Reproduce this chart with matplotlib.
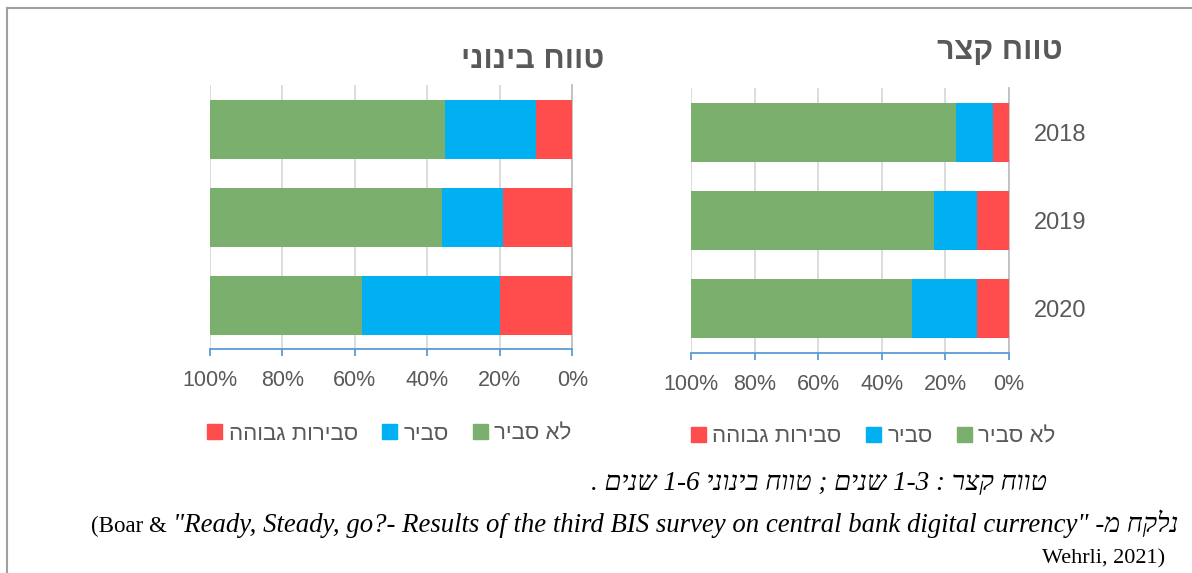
import matplotlib
matplotlib.use('Agg')
import matplotlib.pyplot as plt
from matplotlib.patches import Patch
from matplotlib.lines import Line2D
import numpy as np

# hebrew text has to be written in visual order (matplotlib does no bidi)
def rev(s):
    return s[::-1]

years = ['2018', '2019', '2020']
# short term (1-3 years)
short_red = [5, 10, 10]      # high probability
short_blue = [11.5, 13.5, 20.5]  # probable
short_green = [83.5, 76.5, 69.5]  # not probable
# medium term (1-6 years)
mid_red = [10, 19, 20]
mid_blue = [25, 17, 38]
mid_green = [65, 64, 42]

labels = ['סבירות גבוהה', 'סביר', 'לא סביר']
titles = ['טווח בינוני', 'טווח קצר']
ticks = [0, 20, 40, 60, 80, 100]

c_red = '#FF4C4C'
c_blue = '#00B0F0'
c_green = '#7AAF6E'
grey = '#595959'

plt.rcParams['font.family'] = ['Liberation Sans', 'DejaVu Sans']

W, H = 1192, 573
fig = plt.figure(figsize=(W / 100, H / 100), dpi=100)

def px(x0, y_top, x1, y_bot):
    return [x0 / W, 1 - y_bot / H, (x1 - x0) / W, (y_bot - y_top) / H]

def draw(ax, red, blue, green, show_years):
    y = np.arange(len(years))
    r = np.array(red) / 100
    b = np.array(blue) / 100
    g = np.array(green) / 100
    ax.barh(y, r, left=0, height=0.67, color=c_red, zorder=3)
    ax.barh(y, b, left=r, height=0.67, color=c_blue, zorder=3)
    ax.barh(y, g, left=r + b, height=0.67, color=c_green, zorder=3)
    ax.set_xlim(1, 0)
    ax.set_ylim(2.5, -0.5)
    ax.set_xticks([t / 100 for t in ticks])
    ax.set_xticklabels(['%d%%' % t for t in ticks])
    ax.grid(axis='x', color='#D9D9D9', lw=1.3, zorder=0)
    for s in ['top', 'left']:
        ax.spines[s].set_visible(False)
    ax.spines['right'].set_color('#BFBFBF')
    ax.spines['right'].set_linewidth(1.3)
    ax.spines['bottom'].set_color('#5B9BD5')
    ax.spines['bottom'].set_linewidth(1.3)
    ax.tick_params(axis='x', direction='out', length=5, width=1.3, color='#5B9BD5',
                   labelsize=15.5, labelcolor=grey, pad=10)
    ax.set_yticks(y)
    if show_years:
        ax.yaxis.tick_right()
        ax.set_yticklabels(years)
        ax.tick_params(axis='y', length=0, labelsize=17, labelcolor=grey, pad=18)
    else:
        ax.set_yticklabels([])
        ax.tick_params(axis='y', length=0)

ax1 = fig.add_axes(px(210, 85, 572.3, 349.3))
draw(ax1, mid_red, mid_blue, mid_green, False)
ax2 = fig.add_axes(px(691.3, 88.3, 1008.7, 352.7))
draw(ax2, short_red, short_blue, short_green, True)

fig.text(533 / W, 1 - 60 / H, rev(titles[0]), ha='center', va='center',
         fontsize=22, fontweight='bold', color=grey)
fig.text(1000 / W, 1 - 51 / H, rev(titles[1]), ha='center', va='center',
         fontsize=22, fontweight='bold', color=grey)

handles = [Patch(color=c, label=rev(l)) for c, l in zip([c_red, c_blue, c_green], labels)]
for cx, cy in [(389.5, 434), (873.5, 437)]:
    fig.legend(handles=handles, loc='center', bbox_to_anchor=(cx / W, 1 - cy / H),
               ncol=3, frameon=False, fontsize=16, labelcolor=grey,
               handlelength=0.65, handleheight=0.65, handletextpad=0.3,
               columnspacing=1.1, borderpad=0)

# caption lines
cap = ('. ' + rev('שנים') + ' 1-6 ' + rev('בינוני') + ' ' + rev('טווח') + ' ; '
       + rev('שנים') + ' 1-3 : ' + rev('קצר') + ' ' + rev('טווח'))
fig.text(1047 / W, 1 - 483 / H, cap, ha='right', va='center', fontsize=19.5,
         style='italic', family=['Liberation Serif', 'DejaVu Serif', 'DejaVu Sans'])

src = ('"Ready, Steady, go?- Results of the third BIS survey on central bank digital currency" '
       + '-' + rev('מ') + ' ' + rev('נלקח'))
t = fig.text(1178 / W, 1 - 532 / H, src, ha='right', va='baseline', fontsize=19.3,
             style='italic', family=['Liberation Serif', 'DejaVu Serif'])
fig.canvas.draw()
bb = t.get_window_extent()
fig.text(bb.x0 / W, 1 - 532 / H, '(Boar & ', ha='right', va='baseline', fontsize=16.5,
         family=['Liberation Serif', 'DejaVu Serif'])
fig.text(1165 / W, 1 - 563 / H, 'Wehrli, 2021)', ha='right', va='baseline', fontsize=16,
         family=['Liberation Serif', 'DejaVu Serif'])

# frame lines on top and left
fig.add_artist(Line2D([6.5 / W, 1], [1 - 8 / H, 1 - 8 / H], transform=fig.transFigure,
                      color='#A0A0A0', lw=1.5))
fig.add_artist(Line2D([6.5 / W, 6.5 / W], [0, 1 - 8 / H], transform=fig.transFigure,
                      color='#A0A0A0', lw=1.5))

fig.savefig('out.png', dpi=100)
